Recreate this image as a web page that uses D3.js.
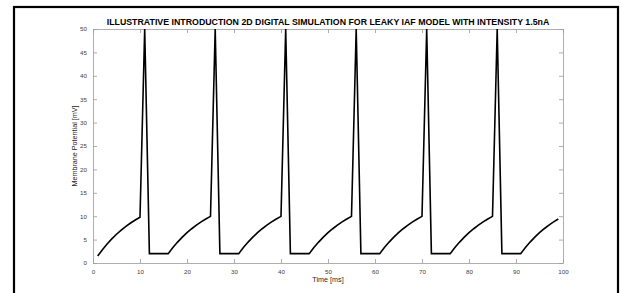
<!DOCTYPE html>
<html>
<head>
<meta charset="utf-8">
<script src="https://cdn.jsdelivr.net/npm/d3@7"></script>
<style>
  body { margin: 0; background: #fff; }
  svg { display: block; font-family: "Liberation Sans", Arial, sans-serif; }
  .tickText { font-size: 6.2px; fill: #404040; }
  .chartTitle { font-size: 8.8px; font-weight: bold; fill: #000; }
  .axisLabel { font-size: 7.2px; fill: #262626; }
</style>
</head>
<body>
<div id="chart" style="width:621px;height:293px;"><svg width="621" height="293"></svg></div>
<script>

// time samples [ms]
const timeMs = [
   1,  2,  3,  4,  5,  6,  7,  8,  9, 10,
  11, 12, 13, 14, 15, 16, 17, 18, 19, 20,
  21, 22, 23, 24, 25, 26, 27, 28, 29, 30,
  31, 32, 33, 34, 35, 36, 37, 38, 39, 40,
  41, 42, 43, 44, 45, 46, 47, 48, 49, 50,
  51, 52, 53, 54, 55, 56, 57, 58, 59, 60,
  61, 62, 63, 64, 65, 66, 67, 68, 69, 70,
  71, 72, 73, 74, 75, 76, 77, 78, 79, 80,
  81, 82, 83, 84, 85, 86, 87, 88, 89, 90,
  91, 92, 93, 94, 95, 96, 97, 98, 99
];

// membrane potential [mV]
const potentialMv = [
  1.5, 2.85, 4.07, 5.16, 6.14, 7.03, 7.83, 8.54, 9.19, 9.77,
  50, 2, 2, 2, 2, 2, 3.3, 4.47, 5.52, 6.47,
  7.32, 8.09, 8.78, 9.4, 9.96, 50, 2, 2, 2, 2,
  2, 3.3, 4.47, 5.52, 6.47, 7.32, 8.09, 8.78, 9.4, 9.96,
  50, 2, 2, 2, 2, 2, 3.3, 4.47, 5.52, 6.47,
  7.32, 8.09, 8.78, 9.4, 9.96, 50, 2, 2, 2, 2,
  2, 3.3, 4.47, 5.52, 6.47, 7.32, 8.09, 8.78, 9.4, 9.96,
  50, 2, 2, 2, 2, 2, 3.3, 4.47, 5.52, 6.47,
  7.32, 8.09, 8.78, 9.4, 9.96, 50, 2, 2, 2, 2,
  2, 3.3, 4.47, 5.52, 6.47, 7.32, 8.09, 8.78, 9.4
];

const xTicks = [0, 10, 20, 30, 40, 50, 60, 70, 80, 90, 100];
const yTicks = [0, 5, 10, 15, 20, 25, 30, 35, 40, 45, 50];

const titleText = "ILLUSTRATIVE INTRODUCTION 2D DIGITAL SIMULATION FOR LEAKY IAF MODEL WITH INTENSITY 1.5nA";
const xLabelText = "Time [ms]";
const yLabelText = "Membrane Potential  [mV]";

/***** SETUP *****/
const width = 621, height = 293;
const margin = {top: 29, left: 93, right: 58, bottom: 30};
const plotWidth = width - margin.left - margin.right;
const plotHeight = height - margin.top - margin.bottom;
const AXIS_COLOR = "#9a9a9a";
const TICK_LEN = 4;

const svg = d3.select("#chart").select("svg");

// outer black frame
svg.append("rect")
    .attr("x", 14).attr("y", 7)
    .attr("width", 604).attr("height", 300)
    .attr("fill", "none")
    .attr("stroke", "#000")
    .attr("stroke-width", 2.2);

/***** SCALES *****/
const xScale = d3.scaleLinear().domain([0, 100]).range([0, plotWidth]);
const yScale = d3.scaleLinear().domain([0, 50]).range([plotHeight, 0]);

const plot = svg.append("g")
    .attr("transform", `translate(${margin.left}, ${margin.top})`);

/***** AXES (matlab box style, inward ticks) *****/
function styleAxis(g) {
    g.select(".domain").attr("stroke", AXIS_COLOR).attr("stroke-width", 0.8);
    g.selectAll(".tick line").attr("stroke", AXIS_COLOR).attr("stroke-width", 0.8);
    g.selectAll(".tick text").attr("class", "tickText").attr("font-family", null).attr("font-size", null).attr("fill", null);
}

plot.append("g")
    .attr("transform", `translate(0, ${plotHeight})`)
    .call(d3.axisBottom(xScale).tickValues(xTicks).tickSizeInner(-TICK_LEN).tickSizeOuter(0).tickPadding(7))
    .call(styleAxis);

plot.append("g")
    .call(d3.axisTop(xScale).tickValues(xTicks).tickSizeInner(-TICK_LEN).tickSizeOuter(0).tickFormat(""))
    .call(styleAxis);

plot.append("g")
    .call(d3.axisLeft(yScale).tickValues(yTicks).tickSizeInner(-TICK_LEN).tickSizeOuter(0).tickPadding(6))
    .call(styleAxis);

plot.append("g")
    .attr("transform", `translate(${plotWidth}, 0)`)
    .call(d3.axisRight(yScale).tickValues(yTicks).tickSizeInner(-TICK_LEN).tickSizeOuter(0).tickFormat(""))
    .call(styleAxis);

/***** LINE *****/
const lineData = timeMs.map((t, i) => ({t: t, v: potentialMv[i]}));

plot.append("path")
    .datum(lineData)
    .attr("fill", "none")
    .attr("stroke", "#000")
    .attr("stroke-width", 1.6)
    .attr("stroke-linejoin", "miter")
    .attr("d", d3.line().x(d => xScale(d.t)).y(d => yScale(d.v)));

/***** TITLE & LABELS *****/
svg.append("text")
    .attr("class", "chartTitle")
    .attr("x", margin.left + plotWidth / 2)
    .attr("y", 25)
    .attr("text-anchor", "middle")
    .text(titleText);

svg.append("text")
    .attr("class", "axisLabel")
    .attr("x", margin.left + plotWidth / 2)
    .attr("y", 282)
    .attr("text-anchor", "middle")
    .text(xLabelText);

svg.append("text")
    .attr("class", "axisLabel")
    .attr("transform", `translate(77, ${margin.top + plotHeight / 2}) rotate(-90)`)
    .attr("text-anchor", "middle")
    .text(yLabelText);

</script>
</body>
</html>
